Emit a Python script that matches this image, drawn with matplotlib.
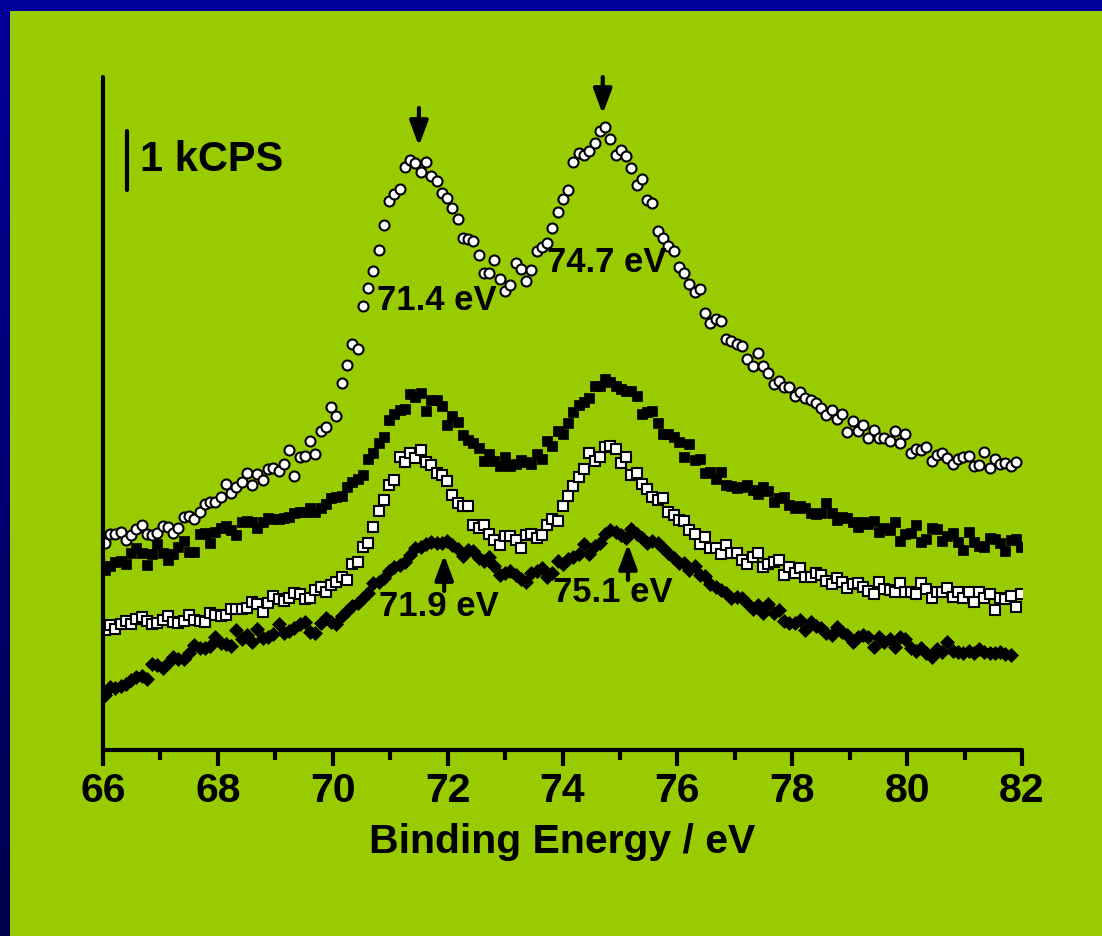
import numpy as np
import matplotlib
matplotlib.use('Agg')
from matplotlib import pyplot as plt
from matplotlib.colors import LinearSegmentedColormap
from matplotlib.patches import Rectangle

plt.rcParams['font.family'] = ['Liberation Sans', 'DejaVu Sans']
plt.rcParams['font.weight'] = 'bold'

# binding energy scan: first point and step (eV)
be_start = 66.03
be_step = 0.0917

# intensities, arbitrary units (59 units = 1 kCPS)
open_circles = [
    207, 216, 216, 218, 210, 215, 221, 225, 216, 215,
    217, 224, 223, 217, 222, 233, 234, 231, 238, 246,
    248, 248, 253, 266, 257, 263, 268, 277, 265, 276,
    270, 281, 282, 279, 286, 300, 274, 293, 294, 309,
    296, 319, 323, 343, 334, 367, 385, 406, 401, 444,
    462, 479, 500, 525, 549, 556, 561, 583, 590, 587,
    578, 588, 574, 569, 557, 552, 542, 531, 512, 511,
    509, 495, 477, 477, 490, 471, 459, 465, 487, 481,
    469, 480, 499, 503, 507, 522, 538, 551, 560, 588,
    597, 595, 599, 607, 619, 623, 611, 595, 600, 594,
    582, 565, 571, 550, 547, 519, 512, 504, 499, 483,
    477, 466, 458, 461, 437, 427, 431, 429, 411, 409,
    406, 404, 391, 384, 397, 384, 377, 366, 369, 363,
    363, 354, 358, 352, 350, 347, 342, 335, 340, 331,
    336, 318, 329, 319, 325, 312, 320, 312, 312, 309,
    319, 307, 316, 297, 301, 300, 303, 289, 295, 297,
    292, 286, 291, 293, 294, 284, 285, 298, 282, 291,
    286, 287, 284, 288]

filled_squares = [
    180, 184, 188, 189, 186, 197, 202, 197, 185, 196,
    206, 197, 190, 196, 203, 209, 198, 198, 216, 217,
    207, 218, 222, 224, 220, 215, 228, 229, 228, 222,
    228, 232, 231, 231, 232, 233, 237, 238, 238, 242,
    238, 242, 246, 252, 253, 254, 263, 268, 271, 275,
    291, 297, 307, 313, 330, 336, 340, 341, 356, 353,
    357, 339, 350, 350, 344, 325, 334, 328, 315, 310,
    307, 302, 289, 296, 289, 284, 293, 284, 286, 290,
    288, 286, 296, 291, 309, 304, 319, 316, 327, 338,
    345, 348, 352, 364, 364, 371, 368, 364, 361, 359,
    359, 354, 336, 338, 339, 327, 316, 316, 313, 308,
    293, 306, 290, 291, 277, 278, 271, 278, 265, 264,
    262, 263, 265, 260, 256, 263, 259, 248, 252, 253,
    245, 242, 244, 242, 237, 236, 237, 247, 237, 230,
    233, 232, 228, 223, 228, 226, 229, 218, 222, 220,
    228, 209, 216, 217, 225, 208, 211, 222, 221, 209,
    214, 217, 208, 200, 218, 208, 204, 203, 212, 211,
    207, 199, 210, 211, 203]

open_squares = [
    120, 125, 121, 126, 129, 126, 131, 133, 129, 126,
    127, 130, 134, 128, 127, 129, 135, 130, 129, 128,
    137, 135, 134, 135, 141, 141, 141, 142, 148, 146,
    138, 147, 154, 151, 149, 152, 157, 156, 151, 152,
    160, 163, 158, 165, 168, 173, 170, 186, 188, 203,
    207, 223, 239, 250, 265, 270, 293, 288, 297, 292,
    300, 288, 285, 277, 275, 269, 255, 247, 244, 244,
    225, 222, 225, 216, 210, 205, 214, 214, 210, 202,
    215, 216, 212, 215, 225, 231, 229, 244, 254, 264,
    273, 281, 297, 289, 293, 303, 304, 301, 287, 293,
    275, 277, 266, 261, 253, 250, 252, 238, 235, 230,
    229, 220, 216, 206, 213, 202, 202, 196, 205, 197,
    197, 190, 186, 193, 197, 183, 186, 188, 190, 175,
    183, 177, 182, 173, 173, 177, 175, 169, 166, 172,
    168, 162, 166, 167, 163, 159, 156, 168, 161, 160,
    158, 167, 158, 158, 156, 167, 161, 152, 158, 158,
    162, 153, 158, 152, 158, 148, 158, 152, 156, 140,
    152, 151, 154, 143, 156]

filled_diamonds = [
    55, 63, 62, 64, 66, 70, 73, 74, 71, 86,
    85, 82, 87, 93, 91, 91, 97, 105, 102, 102,
    104, 113, 107, 106, 104, 120, 111, 115, 108, 121,
    112, 113, 116, 126, 117, 119, 122, 126, 128, 118,
    117, 127, 132, 128, 126, 134, 139, 144, 147, 152,
    157, 167, 168, 172, 179, 183, 185, 188, 195, 202,
    203, 206, 208, 207, 207, 209, 205, 201, 194, 200,
    199, 192, 189, 193, 184, 175, 177, 179, 175, 171,
    168, 177, 179, 182, 173, 177, 189, 186, 191, 193,
    196, 206, 196, 204, 207, 216, 220, 218, 215, 212,
    221, 216, 212, 207, 209, 207, 202, 197, 192, 187,
    187, 180, 184, 175, 174, 166, 163, 160, 157, 152,
    153, 152, 147, 141, 145, 137, 146, 137, 140, 129,
    127, 127, 130, 120, 128, 124, 122, 117, 115, 123,
    118, 115, 108, 113, 115, 113, 103, 113, 108, 111,
    103, 113, 111, 102, 99, 102, 97, 93, 101, 98,
    108, 99, 98, 97, 99, 97, 101, 98, 97, 97,
    98, 96, 95]

x_ticks = [66, 68, 70, 72, 74, 76, 78, 80, 82]
kcps = 59

W, H = 1102, 936
fig = plt.figure(figsize=(W / 100, H / 100), dpi=100)

# slide background: blue frame, green panel
bg = fig.add_axes([0, 0, 1, 1])
bg.axis('off')
frame = LinearSegmentedColormap.from_list('frame', ['#000099', '#00004d'])
bg.imshow(np.linspace(0, 1, 256)[:, None], cmap=frame, aspect='auto',
          extent=[0, 1, 0, 1])
bg.add_patch(Rectangle((10 / W, 0), 1, 1 - 11 / H, color='#99cc00', lw=0))
bg.set_xlim(0, 1)
bg.set_ylim(0, 1)

ax = fig.add_axes([103 / W, 186 / H, 919 / W, 673 / H])
ax.patch.set_visible(False)


def energies(series):
    return be_start + be_step * np.arange(len(series))


ax.plot(energies(filled_diamonds), filled_diamonds, 'D', ms=7.2,
        mfc='black', mec='black', mew=0.5)
ax.plot(energies(open_squares), open_squares, 's', ms=6.8,
        mfc='white', mec='black', mew=1.5)
ax.plot(energies(filled_squares), filled_squares, 's', ms=7.3,
        mfc='black', mec='black', mew=0.5)
ax.plot(energies(open_circles), open_circles, 'o', ms=7.2,
        mfc='white', mec='black', mew=1.5)

ax.set_xlim(66, 82)
ax.set_ylim(0, 673)
ax.set_xticks(x_ticks)
ax.set_xticks(np.arange(67, 82, 2), minor=True)
ax.set_yticks([])
for s in ['top', 'right']:
    ax.spines[s].set_visible(False)
for s in ['left', 'bottom']:
    ax.spines[s].set_linewidth(3)
    ax.spines[s].set_capstyle('round')
ax.tick_params(axis='x', which='major', length=11.5, width=3, pad=4,
               labelsize=29.5)
ax.tick_params(axis='x', which='minor', length=7, width=3)

ax.set_xlabel('Binding Energy / eV', fontsize=29.5, fontweight='bold')
ax.xaxis.label.set_verticalalignment('baseline')
ax.xaxis.set_label_coords(0.5, -103 / 673)

# 1 kCPS scale bar
ax.plot([66.42, 66.42], [560, 560 + kcps], color='black', lw=3,
        solid_capstyle='round')
ax.text(66.65, 590, '1 kCPS', fontsize=30, fontweight='bold', va='center')

# peak markers
arrow = dict(arrowstyle='-|>,head_length=0.75,head_width=0.28', lw=3,
             color='black', shrinkA=0, shrinkB=0, mutation_scale=20)
ax.annotate('', xy=(71.50, 604), xytext=(71.50, 642), arrowprops=arrow)
ax.annotate('', xy=(74.70, 636), xytext=(74.70, 673), arrowprops=arrow)
ax.annotate('', xy=(71.94, 195), xytext=(71.94, 159), arrowprops=arrow)
ax.annotate('', xy=(75.14, 206), xytext=(75.14, 170), arrowprops=arrow)

lab = dict(fontsize=25, fontweight='bold', ha='center', va='center')
ax.text(71.82, 450, '71.4 eV', **lab)
ax.text(74.77, 487, '74.7 eV', **lab)
ax.text(71.85, 144, '71.9 eV', **lab)
ax.text(74.87, 157, '75.1 eV', **lab)

plt.savefig('out.png', dpi=100)
